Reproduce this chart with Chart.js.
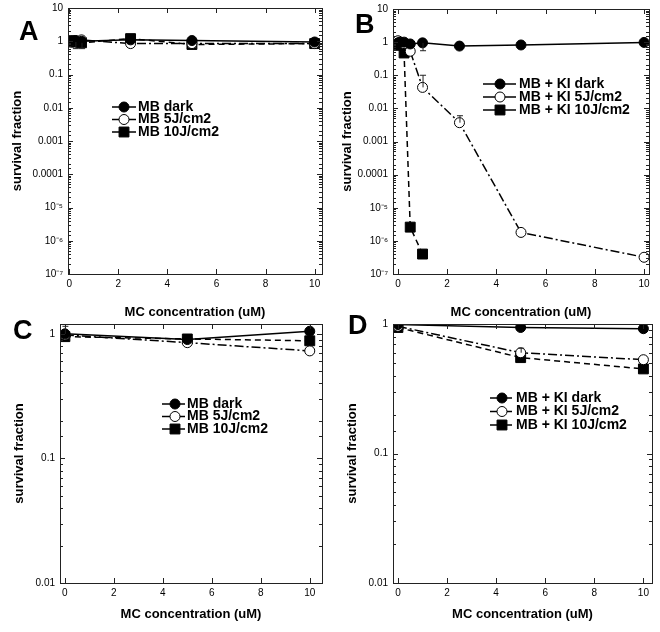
<!DOCTYPE html>
<html>
<head>
<meta charset="utf-8">
<script src="https://cdn.jsdelivr.net/npm/chart.js@4.4.0/dist/chart.umd.min.js"></script>
<style>
  body { margin: 0; background: #fff; }
  #wrap { position: relative; width: 660px; height: 632px; }
  canvas { position: absolute; }
  .tag { position: absolute; font: bold 27px "Liberation Sans", Arial, sans-serif; line-height: 1; }
</style>
</head>
<body>
<div id="wrap">
  <canvas id="pA" width="330" height="320" style="left:0;top:0"></canvas>
  <canvas id="pB" width="330" height="320" style="left:330px;top:0"></canvas>
  <canvas id="pC" width="330" height="316" style="left:0;top:316px"></canvas>
  <canvas id="pD" width="330" height="316" style="left:330px;top:316px"></canvas>
  <div class="tag" style="left:19px;top:18px">A</div>
  <div class="tag" style="left:355px;top:11px">B</div>
  <div class="tag" style="left:13px;top:317px">C</div>
  <div class="tag" style="left:348px;top:312px">D</div>
</div>
<script>
// ---- data ----
const xA = [0, 0.1, 0.25, 0.5, 2.5, 5, 10];
const aDark = [1.0, 1.05, 1.05, 1.0, 1.1, 1.05, 0.95];
const a5J = [1.0, 1.0, 1.05, 1.1, 0.85, 0.85, 0.85];
const a10J = [0.95, 1.0, 0.95, 0.9, 1.2, 0.8, 0.85];
const a10JLow = [null, null, 0.6, 0.6, null, null, null];

const xB = [0, 0.1, 0.25, 0.5, 1, 2.5, 5, 10];
const bDark = [0.95, 1.0, 1.0, 0.88, 0.95, 0.76, 0.82, 0.98];
const bDarkLow = [null, null, null, null, 0.55, null, null, null];
const b5J = [1.1, 1.0, 0.9, 0.53, 0.043, 0.0037, 1.8e-6, 3.2e-7];
const b5JHigh = [null, null, null, null, 0.1, 0.006, null, null];
const b10J = [0.8, 0.85, 0.47, 2.6e-6, 4e-7, null, null, null];

const xC = [0, 5, 10];
const cDark = [1.0, 0.9, 1.05];
const cDarkHigh = [1.15, null, null];
const c5J = [0.98, 0.85, 0.73];
const c10J = [0.95, 0.91, 0.88];

const xD = [0, 5, 10];
const dDark = [0.99, 0.94, 0.92];
const d5J = [0.96, 0.6, 0.53];
const d5JHigh = [null, 0.65, null];
const d10J = [0.94, 0.55, 0.45];

const tickValsAB = [1e-7, 1e-6, 1e-5, 1e-4, 1e-3, 0.01, 0.1, 1, 10];
const tickTextAB = ["10\u207B\u2077", "10\u207B\u2076", "10\u207B\u2075", "0.0001", "0.001", "0.01", "0.1", "1", "10"];
const tickValsCD = [0.01, 0.1, 1];
const tickTextCD = ["0.01", "0.1", "1"];

const labelsMB = ["MB dark", "MB 5J/cm2", "MB 10J/cm2"];
const labelsKI = ["MB + KI dark", "MB + KI 5J/cm2", "MB + KI 10J/cm2"];

// ---- styles ----
const FONT = '"Liberation Sans", Arial, Helvetica, sans-serif';
const styles = [
  { borderDash: [], pointStyle: "circle", pointRadius: 5, pointBackgroundColor: "#000" },
  { borderDash: [9, 3, 2, 3], pointStyle: "circle", pointRadius: 5, pointBackgroundColor: "#fff" },
  { borderDash: [6, 4], pointStyle: "rect", pointRadius: 7, pointBackgroundColor: "#000" }
];

function isPow10(v) {
  const l = Math.log10(v);
  return Math.abs(l - Math.round(l)) < 1e-6;
}

// box around the plot with inward tick marks
const framePlugin = {
  id: "frame",
  afterDatasetsDraw(chart) {
    const { ctx, chartArea: a, scales: { x, y } } = chart;
    ctx.save();
    ctx.strokeStyle = "#222";
    ctx.lineWidth = 1;
    ctx.strokeRect(a.left + 0.5, a.top + 0.5, a.width, a.height);
    ctx.beginPath();
    y.ticks.forEach(t => {
      const py = Math.round(y.getPixelForValue(t.value)) + 0.5;
      if (py < a.top + 1 || py > a.bottom - 1) return;
      const len = isPow10(t.value) ? 5 : 3;
      ctx.moveTo(a.left, py); ctx.lineTo(a.left + len, py);
      ctx.moveTo(a.right, py); ctx.lineTo(a.right - len, py);
    });
    x.ticks.forEach(t => {
      const px = Math.round(x.getPixelForValue(t.value)) + 0.5;
      ctx.moveTo(px, a.bottom); ctx.lineTo(px, a.bottom - 5);
      ctx.moveTo(px, a.top); ctx.lineTo(px, a.top + 5);
    });
    ctx.stroke();

    // error bars
    chart.data.datasets.forEach((ds, i) => {
      const meta = chart.getDatasetMeta(i);
      ["errLow", "errHigh"].forEach(k => {
        (ds[k] || []).forEach((e, j) => {
          if (e == null) return;
          const p = meta.data[j];
          const ey = y.getPixelForValue(e);
          ctx.beginPath();
          ctx.moveTo(p.x + 0.5, p.y); ctx.lineTo(p.x + 0.5, ey);
          ctx.moveTo(p.x - 2.5, ey); ctx.lineTo(p.x + 3.5, ey);
          ctx.stroke();
        });
      });
    });
    ctx.restore();
  }
};

// legend drawn inside the plot
const legendPlugin = {
  id: "insideLegend",
  afterDraw(chart, args, o) {
    const ctx = chart.ctx;
    ctx.save();
    ctx.font = "bold 14px " + FONT;
    ctx.textBaseline = "middle";
    ctx.fillStyle = "#000";
    chart.data.datasets.forEach((ds, i) => {
      const yy = o.y + i * o.gap;
      ctx.strokeStyle = "#000";
      ctx.lineWidth = 1.5;
      ctx.setLineDash([]);
      ctx.beginPath();
      ctx.moveTo(o.x0, yy); ctx.lineTo(o.x1, yy);
      ctx.stroke();
      ctx.lineWidth = 1;
      ctx.fillStyle = ds.pointBackgroundColor;
      ctx.beginPath();
      if (ds.pointStyle === "rect") {
        const s = ds.pointRadius * Math.SQRT1_2;
        ctx.rect(o.mx - s, yy - s, 2 * s, 2 * s);
      } else {
        ctx.arc(o.mx, yy, ds.pointRadius, 0, Math.PI * 2);
      }
      ctx.fill();
      ctx.stroke();
      ctx.fillStyle = "#000";
      ctx.fillText(ds.label, o.tx, yy);
    });
    ctx.restore();
  }
};

function makePanel(id, xs, series, labels, errs, cfg) {
  const datasets = series.map((vals, i) => Object.assign({
    label: labels[i],
    data: xs.map((xv, j) => ({ x: xv, y: vals[j] })),
    borderColor: "#000",
    borderWidth: 1.5,
    pointBorderColor: "#000",
    pointBorderWidth: 1,
    showLine: true,
    spanGaps: false,
    errLow: errs[i].low,
    errHigh: errs[i].high
  }, styles[i]));

  return new Chart(document.getElementById(id), {
    type: "scatter",
    data: { datasets },
    plugins: [framePlugin, legendPlugin],
    options: {
      responsive: false,
      animation: false,
      layout: { padding: { top: cfg.top, right: cfg.right, left: 0, bottom: 0 } },
      plugins: {
        legend: { display: false },
        tooltip: { enabled: false },
        insideLegend: cfg.legend
      },
      scales: {
        x: {
          type: "linear",
          min: cfg.xmin, max: cfg.xmax,
          grid: { display: false, drawTicks: false },
          border: { display: false },
          ticks: { stepSize: 2, includeBounds: false, padding: 4, color: "#000", font: { family: FONT, size: 10 }, maxRotation: 0 },
          title: { display: true, text: "MC concentration (uM)", color: "#000",
                   font: { family: FONT, size: 13, weight: "bold" }, padding: { top: 0, bottom: cfg.xtPad } },
          afterFit: s => { s.height = cfg.xh; s.paddingLeft = 0; s.paddingRight = 0; }
        },
        y: {
          type: "logarithmic",
          min: cfg.ymin, max: cfg.ymax,
          grid: { display: false, drawTicks: false },
          border: { display: false },
          ticks: {
            autoSkip: false, padding: 5, color: "#000", font: { family: FONT, size: 10 },
            callback: v => {
              const k = cfg.tickVals.findIndex(t => Math.abs(Math.log10(v) - Math.log10(t)) < 1e-6);
              return k >= 0 ? cfg.tickText[k] : "";
            }
          },
          title: { display: true, text: "survival fraction", color: "#000",
                   font: { family: FONT, size: 13, weight: "bold" }, padding: { top: cfg.ytPad, bottom: cfg.ytPad } },
          afterFit: s => { s.width = cfg.yw; s.paddingTop = 0; s.paddingBottom = 0; }
        }
      }
    }
  });
}

const noErr = { low: [], high: [] };

makePanel("pA", xA, [aDark, a5J, a10J], labelsMB,
  [noErr, noErr, { low: a10JLow, high: [] }],
  { top: 7, right: 6, yw: 68, xh: 46, xtPad: 0, ytPad: 10, xmin: -0.05, xmax: 10.3,
    ymin: 1e-7, ymax: 10, tickVals: tickValsAB, tickText: tickTextAB,
    legend: { x0: 112, x1: 136, mx: 124, tx: 138, y: 107, gap: 12.5 } });

makePanel("pB", xB, [bDark, b5J, b10J], labelsKI,
  [{ low: bDarkLow, high: [] }, { low: [], high: b5JHigh }, noErr],
  { top: 9, right: 11, yw: 63, xh: 46, xtPad: 0, ytPad: 10, xmin: -0.2, xmax: 10.2,
    ymin: 1e-7, ymax: 10, tickVals: tickValsAB, tickText: tickTextAB,
    legend: { x0: 153, x1: 186, mx: 170, tx: 189, y: 84, gap: 13 } });

makePanel("pC", xC, [cDark, c5J, c10J], labelsMB,
  [{ low: [], high: cDarkHigh }, noErr, noErr],
  { top: 4, right: 6, yw: 60, xh: 49, xtPad: 10, ytPad: 12, xmin: -0.2, xmax: 10.5,
    ymin: 0.01, ymax: 1.2, tickVals: tickValsCD, tickText: tickTextCD,
    legend: { x0: 162, x1: 185, mx: 175, tx: 187, y: 88, gap: 12.5 } });

makePanel("pD", xD, [dDark, d5J, d10J], labelsKI,
  [noErr, { low: [], high: d5JHigh }, noErr],
  { top: 2, right: 5, yw: 63, xh: 49, xtPad: 10, ytPad: 15, xmin: -0.2, xmax: 10.35,
    ymin: 0.01, ymax: 1, tickVals: tickValsCD, tickText: tickTextCD,
    legend: { x0: 160, x1: 182, mx: 172, tx: 186, y: 82, gap: 13.5 } });
</script>
</body>
</html>
